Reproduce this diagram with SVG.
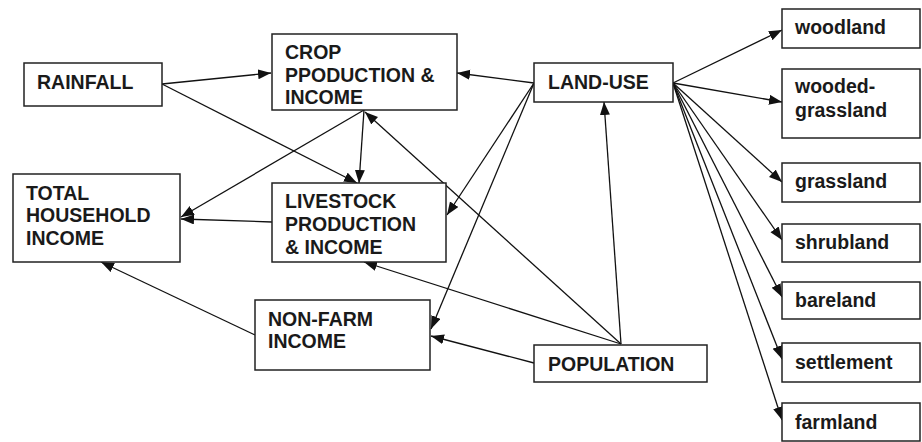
<svg xmlns="http://www.w3.org/2000/svg" width="922" height="442" viewBox="0 0 922 442">
<style>
.box{fill:#fff;stroke:#222;stroke-width:1.5}
.t{font-family:"Liberation Sans",Arial,sans-serif;font-weight:bold;font-size:19.5px;fill:#1a1a1a}
.c{stroke:#111;stroke-width:1.3;fill:none;marker-end:url(#ah)}
</style>
<defs>
<marker id="ah" markerUnits="userSpaceOnUse" markerWidth="14" markerHeight="11" refX="13" refY="5" orient="auto">
<path d="M0,0 L13,5 L0,10 z" fill="#111"/>
</marker>
</defs>
<rect width="922" height="442" fill="#fff"/>
<g id="connectors">
<line class="c" x1="162" y1="84" x2="271" y2="73"/>
<line class="c" x1="162" y1="84" x2="357" y2="183"/>
<line class="c" x1="364" y1="110" x2="359" y2="183"/>
<line class="c" x1="364" y1="110" x2="181" y2="217"/>
<line class="c" x1="272" y1="222" x2="181" y2="219"/>
<line class="c" x1="534" y1="83" x2="457" y2="73"/>
<line class="c" x1="534" y1="83" x2="447" y2="215"/>
<line class="c" x1="534" y1="83" x2="431" y2="329"/>
<line class="c" x1="621" y1="344" x2="365" y2="112"/>
<line class="c" x1="621" y1="344" x2="364" y2="262"/>
<line class="c" x1="621" y1="344" x2="604" y2="102"/>
<line class="c" x1="534" y1="363" x2="431" y2="336"/>
<line class="c" x1="255" y1="335" x2="101" y2="262"/>
<line class="c" x1="673" y1="83" x2="782" y2="30"/>
<line class="c" x1="673" y1="83" x2="782" y2="102"/>
<line class="c" x1="673" y1="83" x2="782" y2="182"/>
<line class="c" x1="673" y1="83" x2="782" y2="240"/>
<line class="c" x1="673" y1="83" x2="782" y2="297"/>
<line class="c" x1="673" y1="83" x2="782" y2="359"/>
<line class="c" x1="673" y1="83" x2="782" y2="420"/>
</g>
<g id="rainfall"><rect class="box" x="24" y="63" width="138" height="43"/><text class="t" x="37" y="89">RAINFALL</text></g>
<g id="crop"><rect class="box" x="272" y="34" width="185" height="76"/><text class="t" x="285" y="59">CROP</text><text class="t" x="285" y="82">PPODUCTION &amp;</text><text class="t" x="285" y="104">INCOME</text></g>
<g id="total"><rect class="box" x="13" y="174" width="167" height="88"/><text class="t" x="26" y="200">TOTAL</text><text class="t" x="26" y="222">HOUSEHOLD</text><text class="t" x="26" y="245">INCOME</text></g>
<g id="livestock"><rect class="box" x="272" y="183" width="174" height="79"/><text class="t" x="285" y="208">LIVESTOCK</text><text class="t" x="285" y="231">PRODUCTION</text><text class="t" x="285" y="254">&amp; INCOME</text></g>
<g id="nonfarm"><rect class="box" x="255" y="300" width="175" height="70"/><text class="t" x="268" y="326">NON-FARM</text><text class="t" x="268" y="348">INCOME</text></g>
<g id="landuse"><rect class="box" x="534" y="63" width="139" height="39"/><text class="t" x="548" y="89">LAND-USE</text></g>
<g id="population"><rect class="box" x="534" y="345" width="173" height="37"/><text class="t" x="548" y="371">POPULATION</text></g>
<g id="woodland"><rect class="box" x="782" y="9" width="138" height="39"/><text class="t" x="795" y="34">woodland</text></g>
<g id="wooded-grassland"><rect class="box" x="782" y="69" width="138" height="69"/><text class="t" x="795" y="93">wooded-</text><text class="t" x="795" y="117">grassland</text></g>
<g id="grassland"><rect class="box" x="782" y="163" width="138" height="39"/><text class="t" x="795" y="188">grassland</text></g>
<g id="shrubland"><rect class="box" x="782" y="224" width="138" height="38"/><text class="t" x="795" y="249">shrubland</text></g>
<g id="bareland"><rect class="box" x="782" y="282" width="138" height="37"/><text class="t" x="795" y="307">bareland</text></g>
<g id="settlement"><rect class="box" x="782" y="343" width="138" height="39"/><text class="t" x="795" y="369">settlement</text></g>
<g id="farmland"><rect class="box" x="782" y="403" width="138" height="38"/><text class="t" x="795" y="429">farmland</text></g>
</svg>
